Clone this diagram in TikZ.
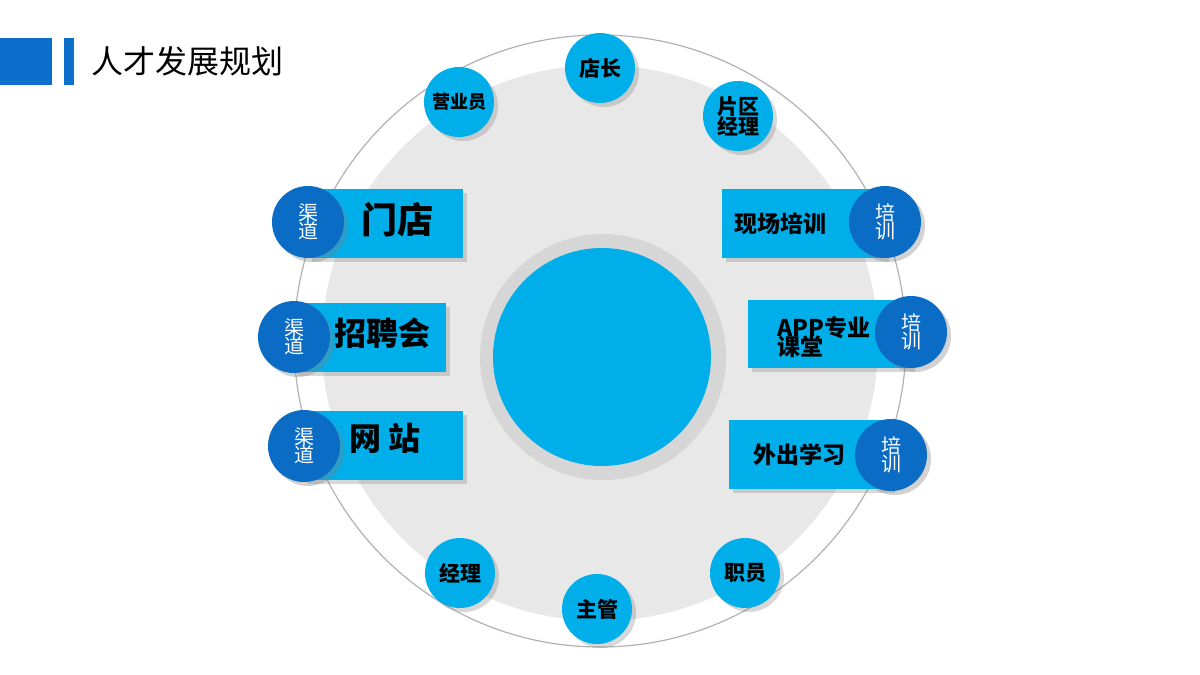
\documentclass[tikz,border=0pt]{standalone}
\usepackage{fontspec}
\setmainfont{Noto Sans CJK SC}
\newcommand\cjkb{\bfseries}
\usetikzlibrary{shadows}
\definecolor{lb}{HTML}{00AEEA}
\definecolor{db}{HTML}{0A6CC4}
\definecolor{tb}{HTML}{0B6FCB}
\begin{document}
\begin{tikzpicture}[x=0.5pt,y=-0.5pt,
  rbox/.style={fill=lb,drop shadow={opacity=0.3,shadow xshift=2pt,shadow yshift=-2pt}},
  posc/.style={circle,fill=lb,minimum size=35pt,inner sep=0pt,align=center,font=\cjkb\fontsize{10.5}{12}\selectfont,drop shadow={opacity=0.3,shadow xshift=2pt,shadow yshift=-2pt}},
  tag/.style={circle,fill=db,minimum size=36pt,inner sep=0pt,align=center,text=white,font=\fontsize{10}{12}\selectfont,drop shadow={opacity=0.35,shadow xshift=2pt,shadow yshift=-2pt}},
  lbl/.style={font=\cjkb\fontsize{#1}{#1}\selectfont,align=left}]
\useasboundingbox (0,0) rectangle (1200,675);
\fill[white] (0,0) rectangle (1200,675);
% header
\fill[tb] (0,38) rectangle (52,85);
\fill[tb] (64,38) rectangle (74,85);
\node[anchor=west,font=\fontsize{16}{18}\selectfont] (title) at (84,61) {人才发展规划};
% circles
\draw[gray!60,line width=0.6pt] (600,341) circle [radius=306];
\fill[black!9] (600,343) circle [radius=278];
\fill[black!16] (603,357) circle [radius=123];
\fill[lb] (602,357) circle [radius=109];
% left
\fill[rbox] (308,189) rectangle (463,258);
\fill[rbox] (294,303) rectangle (446,372);
\fill[rbox] (304,411) rectangle (463,480);
\node[tag] (t1) at (308,222) {渠\\[-3pt]道};
\node[tag] (t2) at (294,337) {渠\\[-3pt]道};
\node[tag] (t3) at (304,446) {渠\\[-3pt]道};
\node[lbl=18] (l1) at (397,220) {门店};
\node[lbl=16] (l2) at (382,333) {招聘会};
\node[lbl=16] (l3) at (385,438) {网 站};
% right
\fill[rbox] (722,189) rectangle (885,258);
\fill[rbox] (748,300) rectangle (911,368);
\fill[rbox] (729,420) rectangle (891,489);
\node[tag] (t4) at (885,222) {培\\[-3pt]训};
\node[tag] (t5) at (911,332) {培\\[-3pt]训};
\node[tag] (t6) at (891,455) {培\\[-3pt]训};
\node[lbl=11.5] (l4) at (780,224) {现场培训};
\node[lbl=11.5] (l5) at (824,337) {APP专业\\[-2pt]课堂};
\node[lbl=11.5] (l6) at (799,455) {外出学习};
% positions
\node[posc] (p1) at (600,68) {店长};
\node[posc,font=\cjkb\fontsize{9}{11}\selectfont] (p2) at (459,102) {营业员};
\node[posc] (p3) at (738,116) {片区\\[-2pt]经理};
\node[posc] (p4) at (460,573) {经理};
\node[posc] (p5) at (597,609) {主管};
\node[posc] (p6) at (745,573) {职员};
\end{tikzpicture}
\end{document}
